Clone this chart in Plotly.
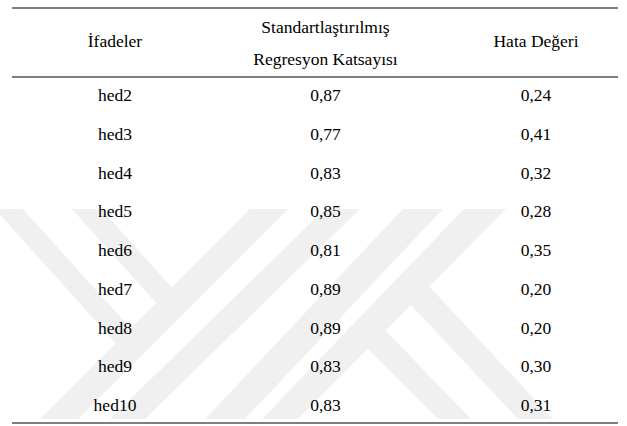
import plotly.graph_objects as go

# table content
headers = ["İfadeler", "Standartlaştırılmış", "Regresyon Katsayısı", "Hata Değeri"]
items = ["hed2", "hed3", "hed4", "hed5", "hed6", "hed7", "hed8", "hed9", "hed10"]
coef = [0.87, 0.77, 0.83, 0.85, 0.81, 0.89, 0.89, 0.83, 0.83]
error = [0.24, 0.41, 0.32, 0.28, 0.35, 0.20, 0.20, 0.30, 0.31]

W, H = 627, 426
FONT = dict(family="Liberation Serif", size=17.5, color="#000000")


def fmt(v):
    return f"{v:.2f}".replace(".", ",")


def px(x, y):
    # pixel -> paper coords
    return x / W, 1 - y / H


rows = list(range(len(items)))

fig = go.Figure()

# body columns
fig.add_trace(go.Scatter(x=[0] * len(items), y=rows, text=items, mode="text",
                         textfont=FONT, hoverinfo="skip"))
fig.add_trace(go.Scatter(x=[1] * len(items), y=rows, text=[fmt(v) for v in coef], mode="text",
                         textfont=FONT, hoverinfo="skip"))
fig.add_trace(go.Scatter(x=[2] * len(items), y=rows, text=[fmt(v) for v in error], mode="text",
                         textfont=FONT, hoverinfo="skip"))

# header
fig.add_trace(go.Scatter(x=[0, 1, 1, 2], y=[-1.395, -1.757, -0.93, -1.395], text=headers,
                         mode="text", textfont=FONT, hoverinfo="skip"))

shapes = []

# faint watermark (pixel polygons)
bands = [
    [(-5, 209), (23, 209), (133, 331), (118, 346)],
    [(72, 209), (101, 209), (174, 290), (159, 306)],
    [(250, 209), (288, 209), (78, 419), (40, 419)],
    [(325, 209), (360, 209), (145, 419), (110, 419)],
    [(403, 209), (443, 209), (245, 419), (205, 419)],
    [(464, 209), (506, 209), (298, 419), (262, 419)],
    [(428, 285), (553, 419), (518, 419), (409, 303)],
    [(384, 329), (471, 419), (438, 419), (366, 347)],
]
for b in bands:
    pts = [px(x, y) for x, y in b]
    path = "M " + " L ".join(f"{a:.4f},{c:.4f}" for a, c in pts) + " Z"
    shapes.append(dict(type="path", path=path, xref="paper", yref="paper",
                       fillcolor="#f0f0f0", line=dict(width=0), layer="below"))

# horizontal rules
for y in [8, 77, 423]:
    x0, yp = px(12, y)
    x1, _ = px(618, y)
    shapes.append(dict(type="line", xref="paper", yref="paper", x0=x0, x1=x1, y0=yp, y1=yp,
                       line=dict(color="#555555", width=1.4)))

fig.update_layout(
    width=W, height=H,
    margin=dict(l=0, r=0, t=0, b=0),
    paper_bgcolor="white", plot_bgcolor="white",
    showlegend=False,
    shapes=shapes,
    xaxis=dict(range=[-0.5463, 2.4323], visible=False, fixedrange=True),
    yaxis=dict(range=[8.501, -2.506], visible=False, fixedrange=True),
)

fig.write_html("out.html", config={"displayModeBar": False},
               post_script="document.body.style.margin='0px';")
